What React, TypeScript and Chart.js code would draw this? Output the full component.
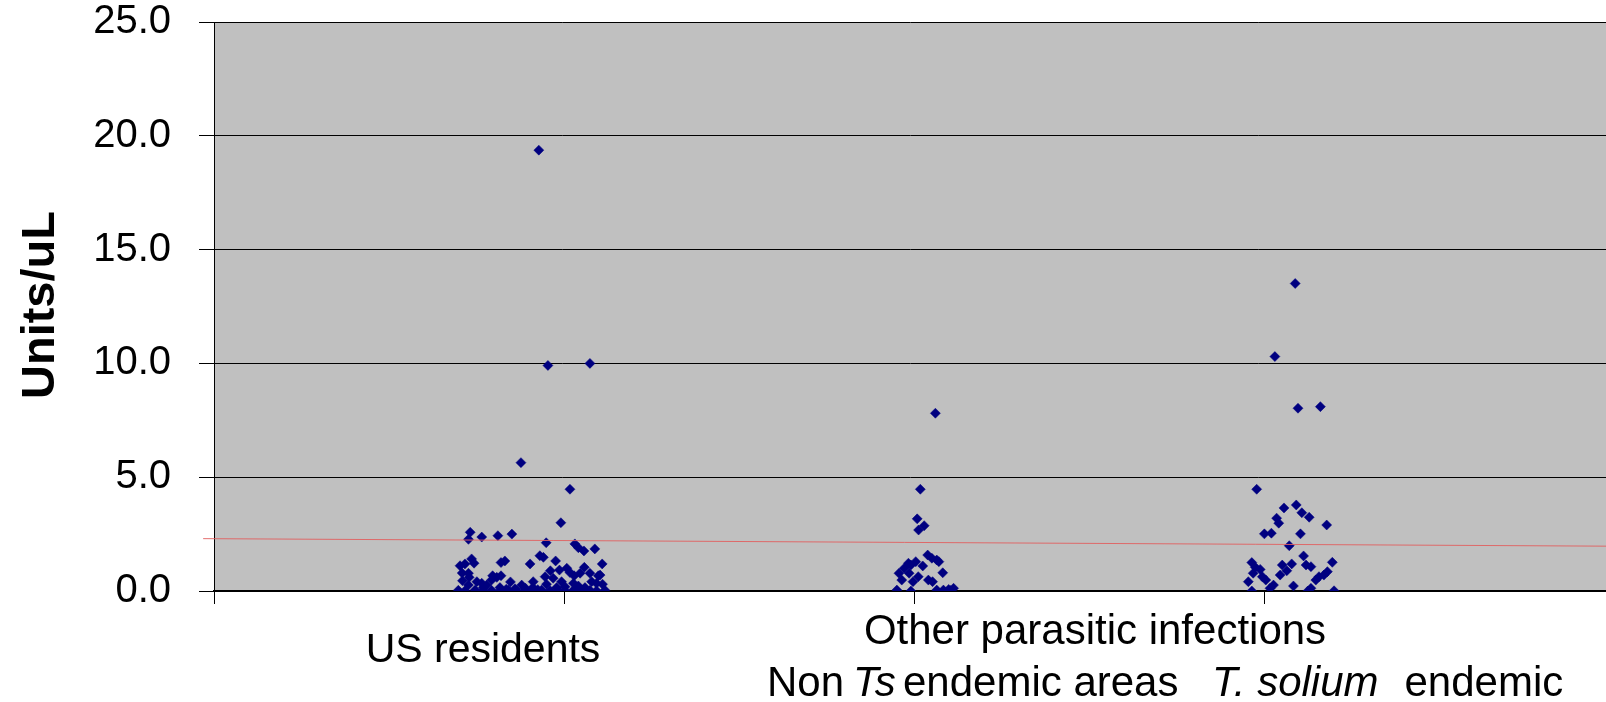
import { useEffect, useRef } from "react";
import { Chart, registerables } from "chart.js";

Chart.register(...registerables);

const FONT = '"Liberation Sans", Arial, Helvetica, sans-serif';

// Y axis
const yTitle = "Units/uL";
const yMin = 0;
const yMax = 25;
const yStep = 5;

// Group labels (text drawn under the axis)
const groupLabel1 = "US residents";
const groupLabel2 = "Other parasitic infections";
const subLabelA = [
  { text: "Non", italic: false },
  { text: "Ts", italic: true },
  { text: "endemic areas", italic: false },
];
const subLabelB = [
  { text: "T. solium", italic: true },
  { text: "endemic", italic: false },
];

// US residents (jittered x around 1)
const usX = [
  0.928, 0.954, 1.074, 0.877, 1.017, 0.991, 0.732, 0.727, 0.765, 0.811, 0.851, 0.949, 1.031, 1.041, 1.057, 1.088,
  0.931, 0.941, 0.736, 0.717, 0.703, 0.743, 0.831, 0.82, 0.903, 0.976, 1.008, 0.987, 0.961, 1.058, 1.109, 0.709,
  0.729, 0.796, 0.82, 0.847, 1.098, 1.029, 1.046, 1.074, 1.017, 0.727, 0.808, 1.103, 0.946, 0.969, 0.793, 0.912,
  0.879, 0.751, 0.765, 0.779, 0.727, 1.079, 1.093, 1.027, 1.041, 0.993, 1.003, 0.769, 0.817, 0.911, 0.979, 1.06,
  0.698, 0.717, 0.746, 0.769, 0.793, 0.817, 0.841, 0.865, 0.889, 0.912, 0.936, 0.96, 0.984, 1.003, 1.027, 1.051,
  1.074, 1.093, 1.117, 0.86, 0.89, 0.95, 1.11, 0.71, 0.835, 0.925,
];
const usY = [
  19.37, 9.91, 10.0, 5.64, 4.47, 3.0, 2.58, 2.27, 2.37, 2.43, 2.5, 2.12, 2.07, 1.9, 1.76, 1.85,
  1.55, 1.48, 1.41, 1.19, 1.11, 1.22, 1.32, 1.25, 1.19, 1.32, 1.0, 0.92, 0.89, 1.04, 1.19, 0.79,
  0.6, 0.67, 0.67, 0.4, 0.67, 0.67, 0.78, 0.78, 0.81, 0.78, 0.6, 0.7, 0.63, 0.56, 0.48, 0.41,
  0.26, 0.41, 0.34, 0.26, 0.26, 0.41, 0.34, 0.34, 0.22, 0.41, 0.19, 0.15, 0.15, 0.15, 0.15, 0.15,
  0.03, 0.01, 0.04, 0.02, 0.03, 0.01, 0.04, 0.02, 0.03, 0.01, 0.04, 0.02, 0.03, 0.01, 0.04, 0.02,
  0.03, 0.01, 0.03, 0.1, 0.12, 0.3, 0.3, 0.45, 0.08, 0.06,
];

// Other parasitic infections, non Ts endemic areas (around 2)
const nonTsX = [
  2.061, 2.018, 2.009, 2.029, 2.013, 2.039, 2.051, 2.071, 2.065, 2.005, 1.984, 2.025, 1.991, 1.972, 1.957,
  1.986, 2.012, 2.082, 1.965, 1.997, 2.041, 2.053, 1.951, 1.991, 2.065, 2.084, 2.099, 2.113, 2.104,
];
const nonTsY = [
  7.81, 4.47, 3.17, 2.87, 2.68, 1.58, 1.44, 1.29, 1.36, 1.29, 1.22, 1.1, 1.14, 1.0, 0.78,
  0.78, 0.63, 0.8, 0.48, 0.41, 0.48, 0.41, 0.04, 0.0, 0.04, 0.04, 0.07, 0.12, 0.02,
];

// Other parasitic infections, T. solium endemic (around 3)
const tSoliumX = [
  3.089, 3.031, 3.097, 3.161, 2.979, 3.057, 3.092, 3.036, 3.042, 3.108, 3.129, 3.179, 3.001, 3.021, 3.104,
  3.072, 3.113, 2.965, 2.975, 2.989, 2.969, 2.995, 3.005, 3.052, 3.079, 3.046, 3.065, 3.12, 3.134, 3.195,
  3.181, 3.171, 3.157, 3.148, 2.955, 3.027, 3.017, 3.084, 3.134, 3.125, 2.965, 3.2,
];
const tSoliumY = [
  13.51, 10.3, 8.03, 8.1, 4.47, 3.65, 3.78, 3.2, 2.98, 3.44, 3.24, 2.9, 2.51, 2.54, 2.51,
  1.99, 1.54, 1.25, 1.04, 0.95, 0.78, 0.63, 0.48, 1.14, 1.19, 0.7, 0.89, 1.14, 1.07, 1.26,
  0.85, 0.7, 0.63, 0.48, 0.41, 0.26, 0.12, 0.22, 0.12, 0.0, 0.0, 0.01,
];

// Trend line (two end points)
const trendX = [-0.031, 3.977];
const trendY = [2.3, 1.97];

const xMin = 0;
const xMax = 3.977;

function toPoints(xs: number[], ys: number[]) {
  return xs.map((x, i) => ({ x, y: ys[i] }));
}

function fontFor(italic: boolean, size: number) {
  return `${italic ? "italic " : ""}${size}px ${FONT}`;
}

const bgPlugin = {
  id: "plotBg",
  beforeDraw(chart: any) {
    const { ctx, chartArea } = chart;
    ctx.save();
    ctx.fillStyle = "#ffffff";
    ctx.fillRect(0, 0, chart.width, chart.height);
    ctx.fillStyle = "#C0C0C0";
    ctx.fillRect(chartArea.left, chartArea.top, chartArea.right - chartArea.left, chartArea.bottom - chartArea.top);
    ctx.restore();
  },
};

const textPlugin = {
  id: "textLabels",
  afterDraw(chart: any) {
    const ctx: CanvasRenderingContext2D = chart.ctx;
    ctx.save();
    ctx.fillStyle = "#000";
    // y axis title
    ctx.save();
    ctx.translate(54, 305);
    ctx.rotate(-Math.PI / 2);
    ctx.font = `bold 47px ${FONT}`;
    ctx.textAlign = "center";
    ctx.textBaseline = "alphabetic";
    ctx.fillText(yTitle, 0, 0);
    ctx.restore();

    ctx.textBaseline = "alphabetic";
    ctx.textAlign = "center";
    ctx.font = fontFor(false, 41);
    ctx.fillText(groupLabel1, 483, 662);
    ctx.font = fontFor(false, 42);
    ctx.fillText(groupLabel2, 1095, 644);

    // second line, runs at their own positions
    ctx.textAlign = "left";
    const xsA = [767, 853, 903];
    subLabelA.forEach((r, i) => {
      ctx.font = fontFor(r.italic, 42);
      ctx.fillText(r.text, xsA[i], 696);
    });
    ctx.font = fontFor(subLabelB[0].italic, 42);
    ctx.fillText(subLabelB[0].text, 1212, 696);
    const w = ctx.measureText(subLabelB[0].text).width;
    ctx.font = fontFor(subLabelB[1].italic, 42);
    ctx.fillText(subLabelB[1].text, 1212 + w + 26, 696);
    ctx.restore();
  },
};

export default function App() {
  const ref = useRef<HTMLCanvasElement | null>(null);

  useEffect(() => {
    if (!ref.current) return;
    const points = [
      ...toPoints(usX, usY),
      ...toPoints(nonTsX, nonTsY),
      ...toPoints(tSoliumX, tSoliumY),
    ];
    const chart = new Chart(ref.current, {
      type: "scatter",
      data: {
        datasets: [
          {
            type: "line",
            data: toPoints(trendX, trendY),
            borderColor: "rgba(225,95,95,0.9)",
            borderWidth: 1,
            pointRadius: 0,
            clip: false,
            order: 0,
          } as any,
          {
            data: points,
            pointStyle: "rectRot",
            pointRadius: 5,
            pointHoverRadius: 5,
            backgroundColor: "#000080",
            borderColor: "#000080",
            borderWidth: 0.5,
            order: 1,
          } as any,
        ],
      },
      options: {
        responsive: false,
        animation: false,
        devicePixelRatio: 1,
        events: [],
        layout: { padding: 0, autoPadding: false },
        plugins: {
          legend: { display: false },
          tooltip: { enabled: false },
        },
        scales: {
          x: {
            type: "linear",
            min: xMin,
            max: xMax,
            afterFit: (s: any) => {
              s.height = 111;
              s.paddingLeft = 0;
              s.paddingRight = 0;
            },
            ticks: { display: false, stepSize: 1, includeBounds: false },
            grid: {
              display: true,
              drawOnChartArea: false,
              drawTicks: true,
              tickLength: 13,
              color: "#000",
              lineWidth: 1,
            },
            border: { display: true, color: "#000", width: 2 },
          },
          y: {
            type: "linear",
            min: yMin,
            max: yMax,
            afterFit: (s: any) => {
              s.width = 214;
              s.paddingTop = 22;
              s.paddingBottom = 0;
            },
            ticks: {
              stepSize: yStep,
              padding: 28,
              color: "#000",
              font: { family: FONT, size: 40, lineHeight: 1 },
              callback: (v: any) => Number(v).toFixed(1),
            },
            grid: { color: "#000", lineWidth: 1, tickLength: 15, drawTicks: true },
            border: { display: true, color: "#000", width: 1 },
          },
        },
      } as any,
      plugins: [bgPlugin, textPlugin],
    });
    return () => chart.destroy();
  }, []);

  return (
    <div style={{ position: "absolute", left: 0, top: 0, width: 1606, height: 702 }}>
      <canvas ref={ref} width={1606} height={702} style={{ display: "block" }} />
    </div>
  );
}
